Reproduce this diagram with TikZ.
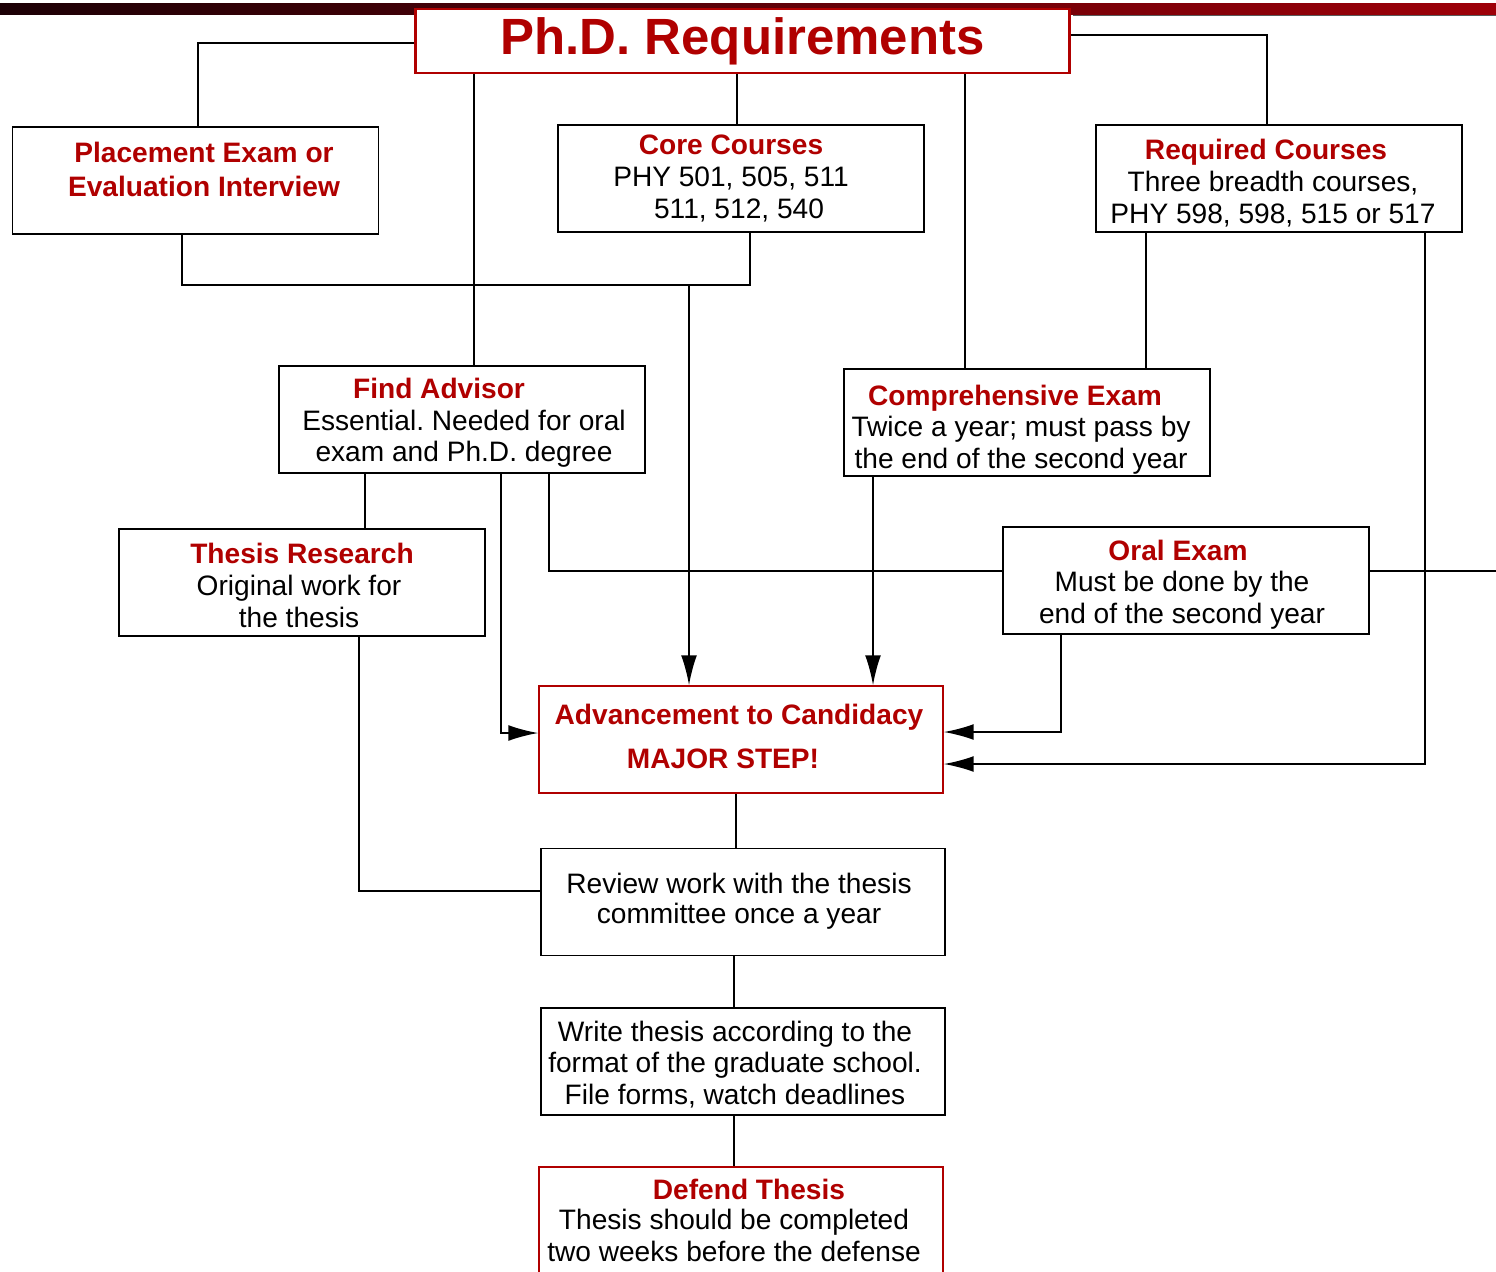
\documentclass[tikz,border=0pt]{standalone}
\usepackage{fontspec}
\setmainfont{Liberation Sans}
\usepackage{xcolor}
\usepackage{tikz}
\usetikzlibrary{arrows.meta}
\frenchspacing

\definecolor{phdred}{RGB}{176,0,0}
\definecolor{bardark}{RGB}{28,0,6}
\definecolor{barred}{RGB}{158,0,8}
\newcommand{\hdr}[1]{\textcolor{phdred}{\bfseries #1}}

\tikzset{
  box/.style={draw, line width=0.9pt, minimum width=7.32cm, minimum height=2.14cm, inner sep=0pt},
  widebox/.style={box, minimum width=8.08cm},
  redbox/.style={widebox, draw=phdred},
  txt/.style={align=center, inner sep=0pt, font=\fontsize{16}{18}\selectfont},
  link/.style={line width=1pt},
  arr/.style={link, -{Latex[length=17pt,width=9pt]}}
}

\begin{document}
\begin{tikzpicture}[x=0.02cm, y=-0.02cm]

\path[use as bounding box, clip] (0,0) rectangle (1496,1271);

% top bar
\shade[left color=bardark, right color=barred] (0,3) rectangle (1496,14);
\draw[gray!70!black, line width=0.6pt] (1073,15.5) -- (1496,15.5);

\node[draw=phdred, line width=1.7pt, fill=white, minimum width=13.1cm, minimum height=1.28cm,
  text=phdred, font=\fontsize{29}{32}\selectfont\bfseries] (title) at (742.5,41) {Ph.D. Requirements};

% boxes
\node[box] (place) at (195.5,180.5) {};
\node[box] (core) at (741,178.5) {};
\node[box] (req) at (1279,178.5) {};
\node[box] (advisor) at (462,419.5) {};
\node[box] (comp) at (1027,422.5) {};
\node[box] (thesis) at (302,582.5) {};
\node[box] (oral) at (1186,580.5) {};
\node[redbox] (adv) at (741,739.5) {};
\node[widebox] (review) at (743,902) {};
\node[widebox] (write) at (743,1061.5) {};
\node[redbox] (defend) at (741,1220.5) {};

% texts
\node[txt] (placetxt) at (204,169.5) {\hdr{Placement Exam or}\\[1pt]\hdr{Evaluation Interview}};
\node[txt] (coretxt) at (731,178.5) {\hdr{Core Courses}\\PHY 501, 505, 511\\\hspace*{0.32cm}511, 512, 540};
\node[txt] (reqtxt) at (1273,183) {\hspace*{-0.28cm}\hdr{Required Courses}\\Three breadth courses,\\PHY 598, 598, 515 or 517};
\node[txt] (advisortxt) at (464,423) {\hspace*{-1cm}\hdr{Find Advisor}\\Essential. Needed for oral\\exam and Ph.D. degree};
\node[txt] (comptxt) at (1021,429.5) {\hspace*{-0.24cm}\hdr{Comprehensive Exam}\\Twice a year; must pass by\\the end of the second year};
\node[txt] (thesistxt) at (299,585.5) {\hspace*{0.12cm}\hdr{Thesis Research}\\Original work for\\the thesis};
\node[txt] (oraltxt) at (1182,584.5) {\hspace*{-0.16cm}\hdr{Oral Exam}\\Must be done by the\\end of the second year};
\node[txt] (advtxt) at (739,736.5) {\hdr{Advancement to Candidacy}\\[7pt]\hspace*{-0.64cm}\hdr{MAJOR STEP!}};
\node[txt] (reviewtxt) at (739,901) {Review work with the thesis\\[-1pt]committee once a year};
\node[txt] (writetxt) at (735,1064.5) {Write thesis according to the\\format of the graduate school.\\File forms, watch deadlines};
\node[txt] (defendtxt) at (734,1220.5) {\hspace*{0.6cm}\hdr{Defend Thesis}\\[-1pt]Thesis should be completed\\two weeks before the defense};

\coordinate (join) at (689,285);
\coordinate (rim) at (1496,571);

% from the title
\draw[link] (title.west |- 0,43) -| (place.north -| 198,0);
\draw[link] (title.south -| 474,0) -- (advisor.north -| 474,0);
\draw[link] (title.south -| 737,0) -- (core.north -| 737,0);
\draw[link] (title.south -| 965,0) -- (comp.north -| 965,0);
\draw[link] (title.east |- 0,35) -| (req.north -| 1267,0);

% courses
\draw[link] (place.south -| 182,0) -- (182,285) -| (core.south -| 750,0);
\draw[arr] (join) -- (adv.north -| 689,0);
\draw[link] (req.south -| 1146,0) -- (comp.north -| 1146,0);
\draw[arr] (req.south -| 1425,0) |- (adv.east |- 0,764);
\draw[arr] (comp.south -| 873,0) -- (adv.north -| 873,0);

% advisor and exams
\draw[link] (advisor.south -| 365,0) -- (thesis.north -| 365,0);
\draw[arr] (advisor.south -| 501,0) |- (adv.west |- 0,733);
\draw[link] (advisor.south -| 549,0) |- (oral.west |- 0,571);
\draw[link] (oral.east |- rim) -- (rim);
\draw[arr] (oral.south -| 1061,0) |- (adv.east |- 0,732);
\draw[link] (thesis.south -| 359,0) |- (review.west |- 0,891);

% down the column
\draw[link] (adv.south -| 736,0) -- (review.north -| 736,0);
\draw[link] (review.south -| 734,0) -- (write.north -| 734,0);
\draw[link] (write.south -| 734,0) -- (defend.north -| 734,0);

\end{tikzpicture}
\end{document}
